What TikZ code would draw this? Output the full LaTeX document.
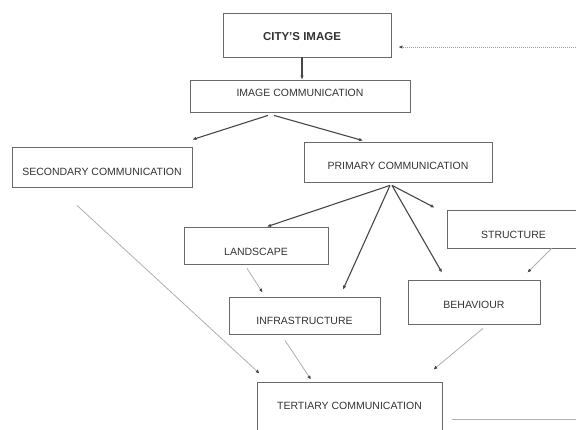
\documentclass[tikz,border=0pt]{standalone}
\usepackage{fontspec}
\setmainfont{Liberation Sans}
\usetikzlibrary{arrows.meta}
\definecolor{boxc}{HTML}{6A6A6A}
\definecolor{txtc}{HTML}{333333}
\definecolor{darkar}{HTML}{474747}
\definecolor{lightar}{HTML}{B0B0B0}
\definecolor{dotc}{HTML}{9A9A9A}
\tikzset{
  boxnode/.style={draw=boxc, line width=0.8pt, rectangle, inner sep=0pt, fill=white},
  lbl/.style={text=txtc, font=\fontsize{10.5}{12}\selectfont, inner sep=0pt},
  blbl/.style={text=txtc, font=\fontsize{11.5}{13}\selectfont\bfseries, inner sep=0pt},
  darkarrow/.style={draw=darkar, line width=1.1pt, -{Latex[length=4pt,width=3.5pt]}},
  lightarrow/.style={draw=lightar, line width=0.8pt, -{Latex[length=4pt,width=3.5pt,color=darkar]}},
  dotarrow/.style={draw=dotc, line width=1pt, dash pattern=on 1.2pt off 0.8pt, -{Latex[length=4pt,width=3.5pt,color=darkar]}},
}
\begin{document}
\begin{tikzpicture}[x=1pt,y=-1pt]
\useasboundingbox[fill=white] (0,0) rectangle (576,429);

\node[boxnode, minimum width=168pt, minimum height=44pt,
      label={[blbl,xshift=-5pt,yshift=-2pt]center:CITY'S IMAGE}] (city) at (307,35) {};
\node[boxnode, minimum width=220pt, minimum height=32pt,
      label={[lbl,yshift=3pt]center:IMAGE COMMUNICATION}] (imgc) at (300,96) {};
\node[boxnode, minimum width=180pt, minimum height=40pt,
      label={[lbl,yshift=-5pt]center:SECONDARY COMMUNICATION}] (sec) at (102,167) {};
\node[boxnode, minimum width=188pt, minimum height=40pt,
      label={[lbl,yshift=-4pt]center:PRIMARY COMMUNICATION}] (prim) at (398,162) {};
\node[boxnode, minimum width=144pt, minimum height=37pt,
      label={[lbl,yshift=-6pt]center:LANDSCAPE}] (land) at (256,245.5) {};
\node[boxnode, minimum width=133pt, minimum height=38pt,
      label={[lbl,yshift=-6pt]center:STRUCTURE}] (struct) at (513.5,229) {};
\node[boxnode, minimum width=151pt, minimum height=37pt,
      label={[lbl,yshift=-5pt]center:INFRASTRUCTURE}] (infra) at (304.5,315.5) {};
\node[boxnode, minimum width=132pt, minimum height=44pt,
      label={[lbl,yshift=-3pt]center:BEHAVIOUR}] (behav) at (474,302) {};
\node[boxnode, minimum width=185pt, minimum height=58pt,
      label={[lbl,yshift=5pt]center:TERTIARY COMMUNICATION}] (tert) at (349.5,411) {};

\coordinate (dotS) at (578,47);
\coordinate (hlA) at (452,419);
\coordinate (hlB) at (578,419);

% dark arrows
\draw[darkarrow] ([xshift=-5pt]city.south) -- ([xshift=2pt]imgc.north);
\draw[darkarrow] ([xshift=-32pt,yshift=-3pt]imgc.south) -- ([yshift=7pt]sec.north east);
\draw[darkarrow] ([xshift=-26pt,yshift=-3pt]imgc.south) -- ([xshift=-35pt,yshift=1pt]prim.north);
\draw[darkarrow] ([xshift=-8pt,yshift=-3pt]prim.south) -- ([xshift=11pt]land.north);
\draw[darkarrow] ([xshift=-8pt,yshift=-3pt]prim.south) -- ([xshift=38.5pt,yshift=7pt]infra.north);
\draw[darkarrow] ([xshift=-6pt,yshift=-3pt]prim.south) -- ([xshift=-32pt,yshift=7pt]behav.north);
\draw[darkarrow] ([xshift=-6pt,yshift=-3pt]prim.south) -- ([xshift=-12pt,yshift=2pt]struct.north west);

% light arrows
\draw[lightarrow] ([xshift=105pt]struct.south west) -- ([xshift=-13pt,yshift=7pt]behav.north east);
\draw[lightarrow] ([xshift=-9pt,yshift=-4pt]land.south) -- ([xshift=34pt,yshift=4pt]infra.north west);
\draw[lightarrow] ([xshift=-25pt,yshift=-18pt]sec.south) -- ([xshift=3pt,yshift=8pt]tert.north west);
\draw[lightarrow] ([xshift=-19.5pt,yshift=-6pt]infra.south) -- ([xshift=-38.5pt,yshift=2pt]tert.north);
\draw[lightarrow] ([xshift=9pt,yshift=-4pt]behav.south) -- ([xshift=-9pt,yshift=12pt]tert.north east);

% dotted feedback arrow
\draw[dotarrow] (dotS) -- ([xshift=7pt,yshift=-12pt]city.east);

% loose line bottom right
\draw[draw=lightar, line width=0.9pt] (hlA) -- (hlB);
\end{tikzpicture}
\end{document}
